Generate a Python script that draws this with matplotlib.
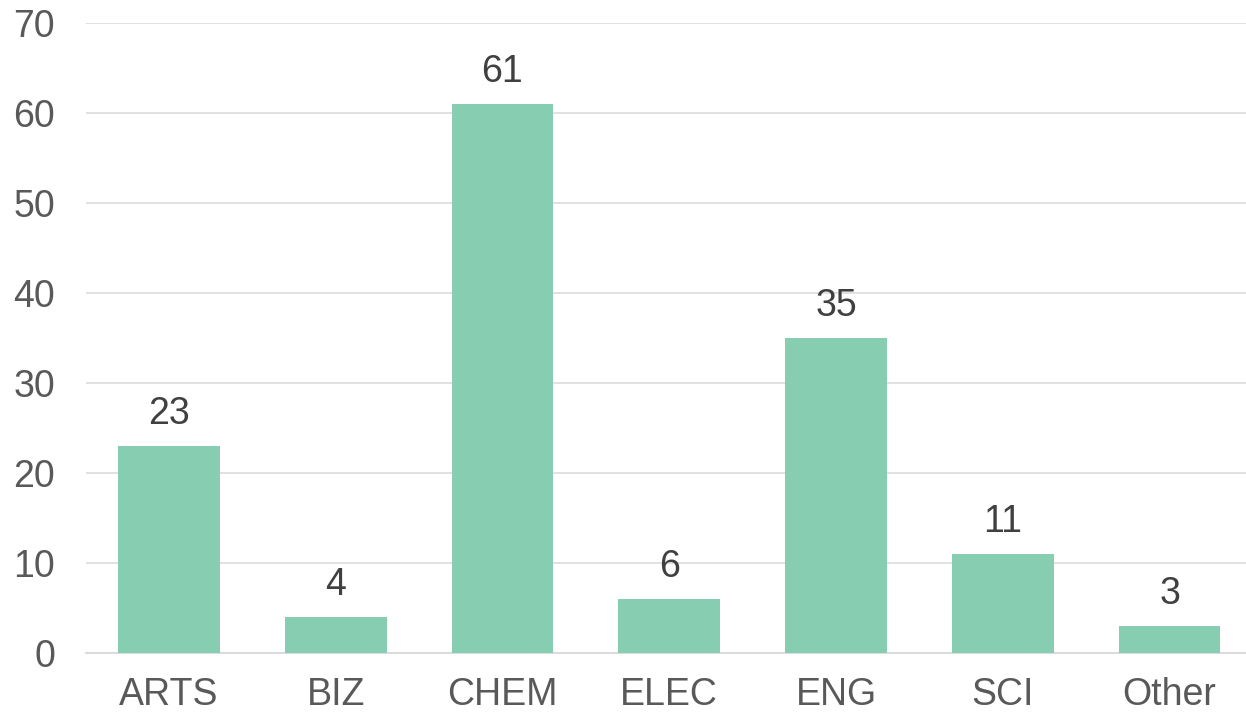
import matplotlib
matplotlib.use("Agg")
import matplotlib.pyplot as plt

categories = ["ARTS", "BIZ", "CHEM", "ELEC", "ENG", "SCI", "Other"]
counts = [23, 4, 61, 6, 35, 11, 3]
y_ticks = [0, 10, 20, 30, 40, 50, 60, 70]

plt.rcParams['font.family'] = ['Liberation Sans', 'DejaVu Sans']

W, H = 1246, 712
fig = plt.figure(figsize=(W / 100, H / 100), dpi=100)
ax = fig.add_axes([85.5 / W, 1 - 653 / H, (W - 85.5) / W, (653 - 23) / H])

x = list(range(len(categories)))
bars = ax.bar(x, counts, width=0.61, color='#86CDB2', zorder=3)

# data labels above each bar
for xi, v in zip(x, counts):
    ax.annotate(str(v), (xi, v), xytext=(0, 10), textcoords='offset points',
                ha='center', va='bottom', fontsize=27, color='#404040')

ax.set_xlim(-0.5, 6.5 - 7 / 166.8)
ax.set_ylim(0, 70)
ax.set_yticks(y_ticks)
ax.set_xticks(x)
ax.set_xticklabels(categories)
ax.tick_params(axis='both', length=0, labelsize=27, labelcolor='#595959')
ax.tick_params(axis='x', pad=17)
ax.tick_params(axis='y', pad=22)

ax.grid(axis='y', color='#d9d9d9', linewidth=1.1, zorder=0)
for s in ['top', 'right', 'left']:
    ax.spines[s].set_visible(False)
ax.spines['bottom'].set_color('#d9d9d9')
ax.spines['bottom'].set_linewidth(1.3)

fig.savefig("out.png", dpi=100)
